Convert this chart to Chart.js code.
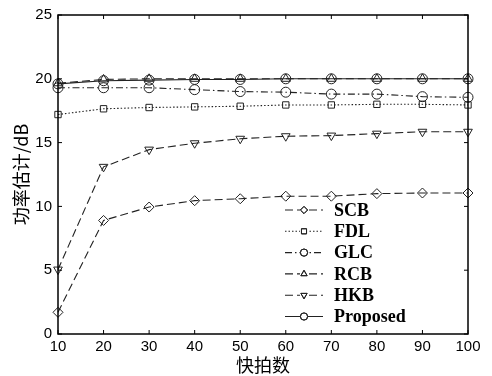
<!DOCTYPE html>
<html>
<head>
<meta charset="utf-8">
<script src="https://cdn.jsdelivr.net/npm/chart.js@4.4.0/dist/chart.umd.min.js"></script>
<style>
  html, body { margin: 0; padding: 0; background: #fff; }
  #wrap { width: 492px; height: 376px; position: relative; }
</style>
</head>
<body>
<div id="wrap"><canvas id="chart"></canvas></div>
<script>
// 快拍数 (x轴)
const snapshots = [10, 20, 30, 40, 50, 60, 70, 80, 90, 100];

// 각 방법의 功率估计 값 (dB), 그림에서 읽은 값
const scb      = [1.7, 8.9, 9.95, 10.45, 10.6, 10.8, 10.8, 11.0, 11.05, 11.05];
const fdl      = [17.2, 17.65, 17.75, 17.8, 17.85, 17.95, 17.95, 18.0, 18.0, 17.95];
const glc      = [19.3, 19.3, 19.3, 19.15, 19.0, 18.95, 18.8, 18.8, 18.6, 18.55];
const rcb      = [19.65, 19.95, 20.0, 20.0, 20.0, 20.0, 20.0, 20.0, 20.0, 20.0];
const hkb      = [5.05, 13.1, 14.45, 14.95, 15.3, 15.5, 15.55, 15.7, 15.85, 15.85];
const proposed = [19.6, 19.85, 19.9, 19.95, 19.95, 20.0, 20.0, 20.0, 20.0, 20.0];

const yTicks = [0, 5, 10, 15, 20, 25];

const INK = '#222';

function series(label, data, style, dash, rotation) {
    return {
        label: label,
        data: data,
        borderColor: INK,
        borderWidth: 1.1,
        borderDash: dash,
        pointStyle: style,
        pointRotation: rotation || 0,
        pointRadius: style === 'rect' ? 4.5 : 5,
        pointBackgroundColor: 'rgba(255,255,255,0)',
        pointBorderColor: INK,
        pointBorderWidth: 1,
        tension: 0,
        fill: false
    };
}

// 범례는 차트 내부 오른쪽 아래에 직접 그림
const boxLegend = {
    id: 'boxLegend',
    afterDatasetsDraw(chart) {
        const ctx = chart.ctx;
        const area = chart.chartArea;
        ctx.save();
        // 테두리
        ctx.strokeStyle = '#000';
        ctx.lineWidth = 1.5;
        ctx.setLineDash([]);
        ctx.strokeRect(area.left, area.top, area.right - area.left, area.bottom - area.top);

        // 안쪽 눈금
        const xs = chart.scales.x, ys = chart.scales.y;
        ctx.lineWidth = 1;
        ys.ticks.forEach(t => {
            const py = ys.getPixelForValue(t.value);
            ctx.beginPath();
            ctx.moveTo(area.left, py); ctx.lineTo(area.left + 4, py);
            ctx.moveTo(area.right, py); ctx.lineTo(area.right - 4, py);
            ctx.stroke();
        });
        xs.ticks.forEach((t, i) => {
            const px = xs.getPixelForTick(i);
            ctx.beginPath();
            ctx.moveTo(px, area.bottom); ctx.lineTo(px, area.bottom - 4);
            ctx.moveTo(px, area.top); ctx.lineTo(px, area.top + 4);
            ctx.stroke();
        });

        // 범례 항목
        const x0 = 285, x1 = 323, textX = 334;
        let y = 210;
        chart.data.datasets.forEach(ds => {
            ctx.strokeStyle = INK;
            ctx.lineWidth = 1.1;
            ctx.setLineDash(ds.borderDash || []);
            ctx.beginPath();
            ctx.moveTo(x0, y); ctx.lineTo(x1, y);
            ctx.stroke();
            ctx.setLineDash([]);
            ctx.fillStyle = '#fff';
            ctx.fillRect((x0 + x1) / 2 - 4, y - 4, 8, 8);
            ctx.lineWidth = 1;
            Chart.helpers.drawPoint(ctx, {
                pointStyle: ds.pointStyle,
                rotation: ds.pointRotation,
                radius: 3.6,
                borderWidth: 1
            }, (x0 + x1) / 2, y);
            ctx.stroke();
            ctx.fillStyle = '#000';
            ctx.font = 'bold 18px "Liberation Serif", "Times New Roman", serif';
            ctx.textBaseline = 'middle';
            ctx.textAlign = 'left';
            ctx.fillText(ds.label, textX, y + 1);
            y += 21.3;
        });
        ctx.restore();
    }
};

const tickFont = { family: '"Liberation Sans", Arial, sans-serif', size: 15 };
const titleFont = { family: '"Noto Sans CJK SC", sans-serif', size: 18 };

new Chart(document.getElementById('chart'), {
    type: 'line',
    data: {
        labels: snapshots,
        datasets: [
            series('SCB', scb, 'rectRot', [8, 4]),
            series('FDL', fdl, 'rect', [1.5, 2]),
            series('GLC', glc, 'circle', [7, 3, 1.5, 3]),
            series('RCB', rcb, 'triangle', [8, 4]),
            series('HKB', hkb, 'triangle', [8, 4], 180),
            series('Proposed', proposed, 'circle', [])
        ]
    },
    options: {
        responsive: true,
        maintainAspectRatio: false,
        animation: false,
        layout: { padding: { left: 0, right: 24, top: 13, bottom: 0 } },
        plugins: {
            legend: { display: false },
            tooltip: { enabled: false }
        },
        scales: {
            x: {
                type: 'category',
                offset: false,
                grid: { display: false, drawTicks: false },
                border: { display: false },
                ticks: { color: '#000', font: tickFont, padding: 4, maxRotation: 0, autoSkip: false },
                title: { display: true, text: '快拍数', color: '#000', font: titleFont, padding: { top: 0, bottom: 0 } },
                afterFit(scale) { scale.height = 42; }
            },
            y: {
                min: 0,
                max: 25,
                afterBuildTicks(scale) { scale.ticks = yTicks.map(v => ({ value: v })); },
                grid: { display: false, drawTicks: false },
                border: { display: false },
                ticks: { color: '#000', font: tickFont, padding: 6 },
                title: { display: true, text: '功率估计/dB', color: '#000', font: titleFont, padding: { top: 10, bottom: 0 } },
                afterFit(scale) { scale.width = 58; }
            }
        }
    },
    plugins: [boxLegend]
});
</script>
</body>
</html>
